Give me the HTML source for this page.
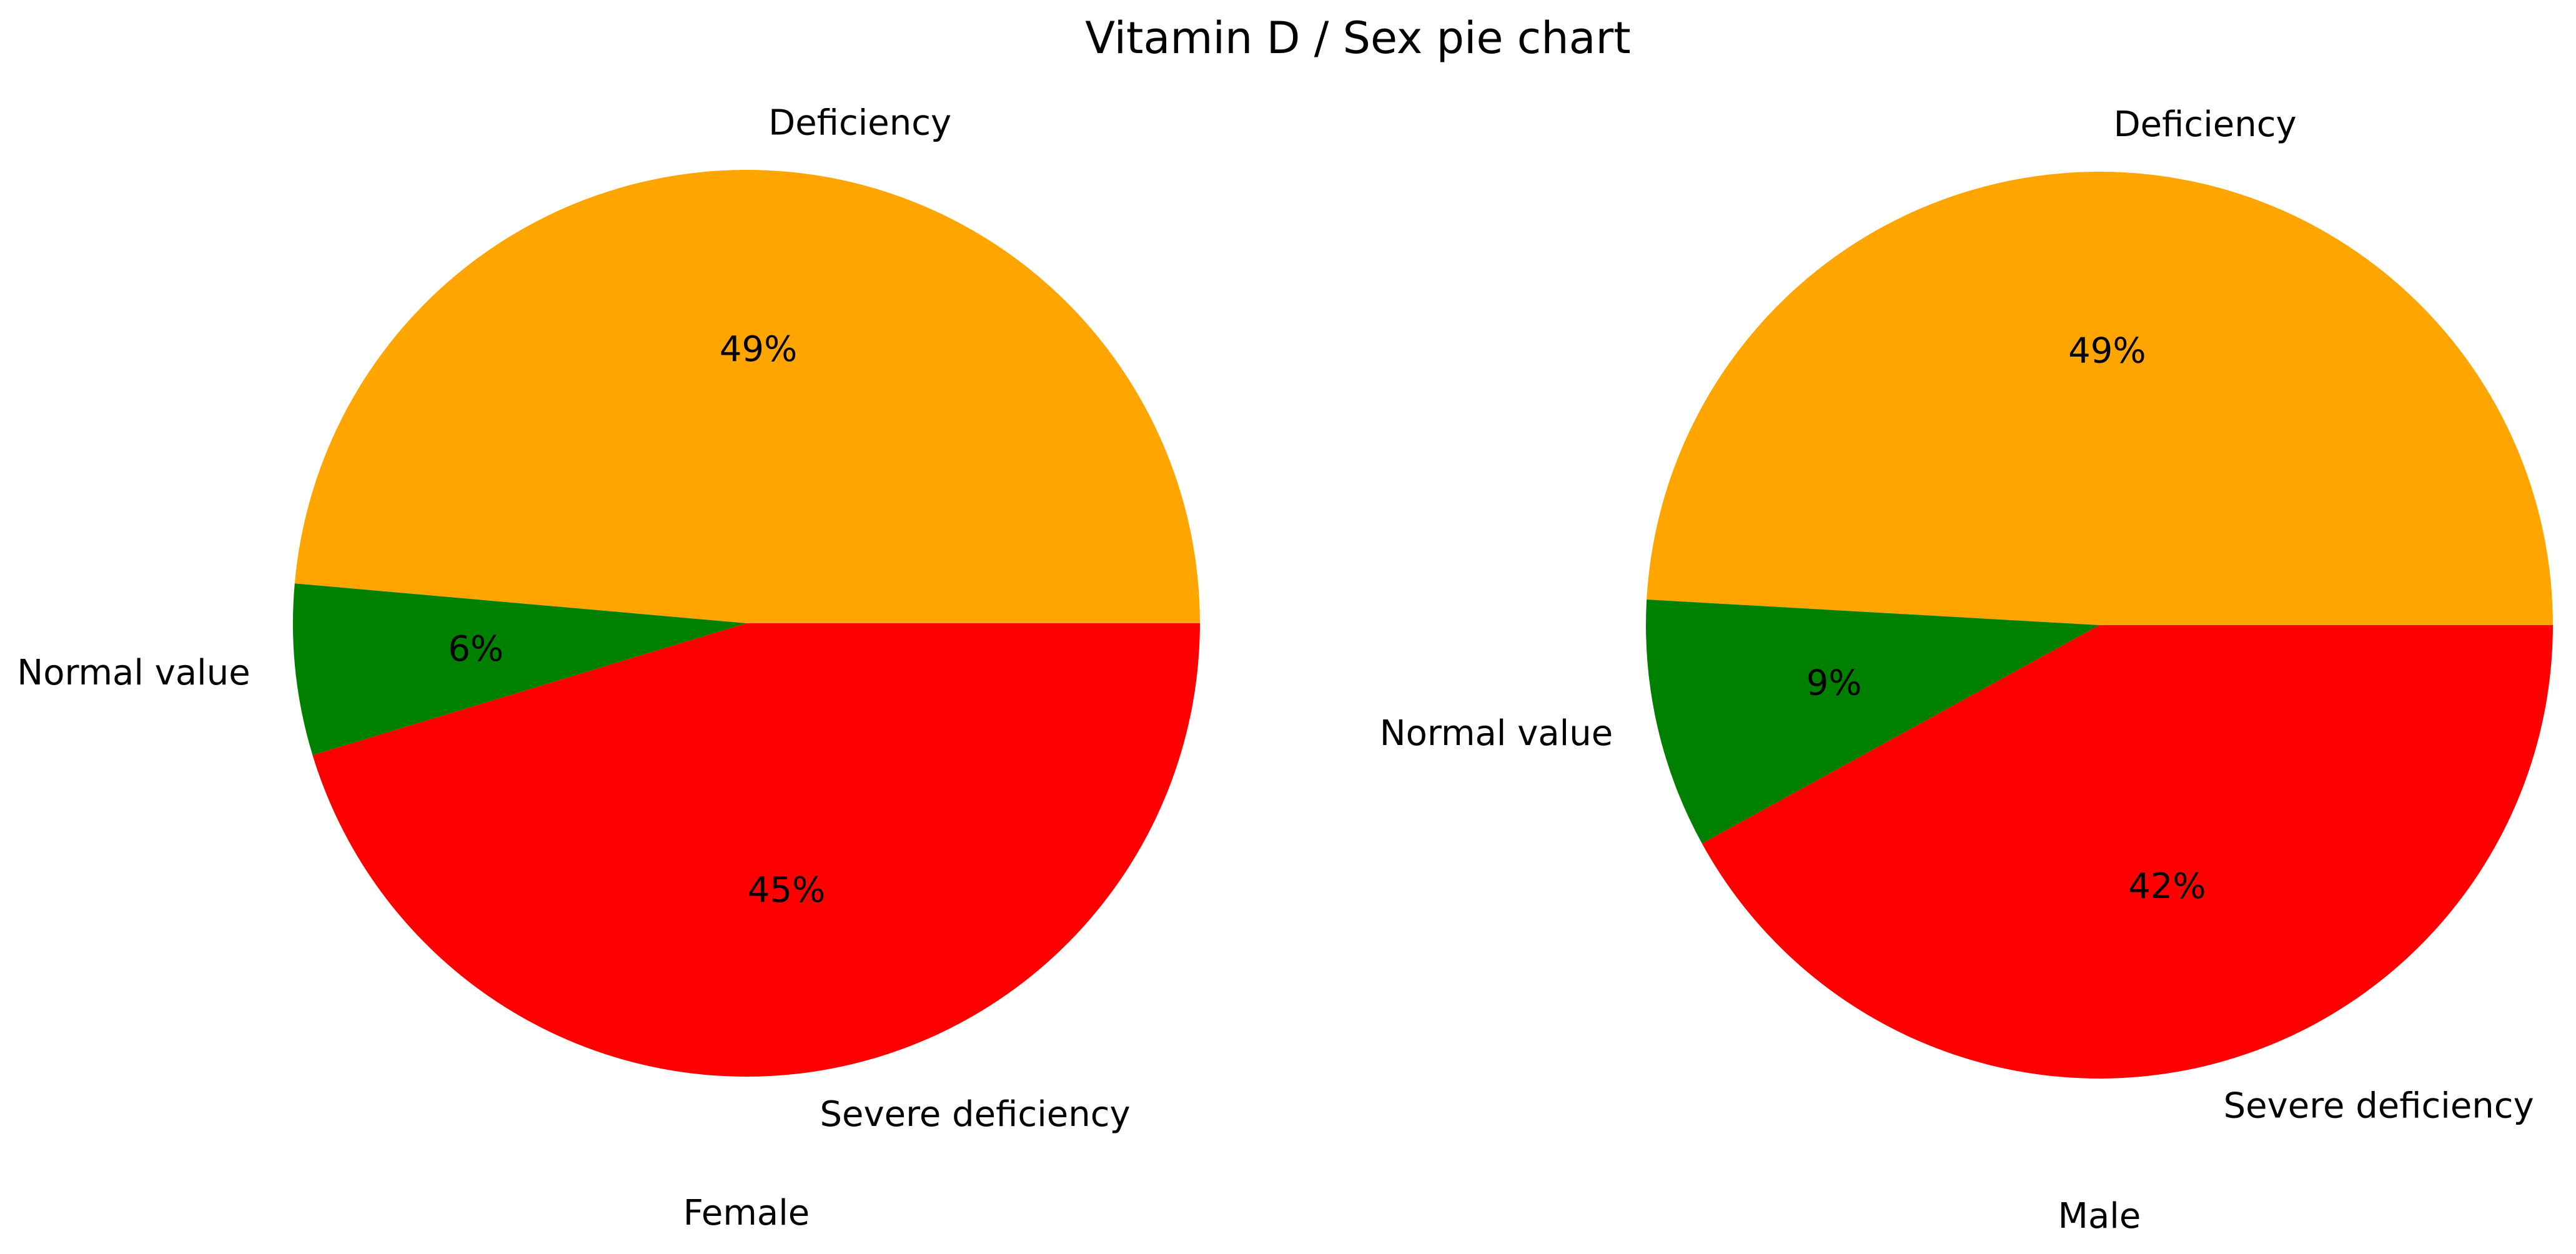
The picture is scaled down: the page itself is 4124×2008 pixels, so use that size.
<!DOCTYPE html>
<html><head><meta charset="utf-8"><style>
html,body{margin:0;padding:0;background:#fff;}
svg{display:block;font-family:"DejaVu Sans","Liberation Sans",sans-serif;}
</style></head><body>
<svg id="chart" width="4124" height="2008" viewBox="0 0 4124 2008">
<text x="2174" y="66" text-anchor="middle" dominant-baseline="middle" font-size="70" fill="#000">Vitamin D / Sex pie chart</text>
<g id="pies"></g>
</svg>
<script>
const categories = ["Deficiency", "Normal value", "Severe deficiency"];
const colors = ["#FFA500", "#008000", "#FF0000"];
const femaleValues = [48.6, 6.1, 45.3];
const maleValues = [49.1, 8.9, 42.0];
const groupNames = ["Female", "Male"];

const NS = "http://www.w3.org/2000/svg";
const g = document.getElementById("pies");
function mk(tag, attrs) { const e = document.createElementNS(NS, tag); for (const k in attrs) e.setAttribute(k, attrs[k]); return e; }

function drawPie(values, cx, cy, r, name, subY) {
  const total = values.reduce((a, b) => a + b, 0);
  let start = 0;
  values.forEach((v, i) => {
    const a0 = start / total * 2 * Math.PI, a1 = (start + v) / total * 2 * Math.PI;
    start += v;
    const x0 = cx + r * Math.cos(a0), y0 = cy - r * Math.sin(a0);
    const x1 = cx + r * Math.cos(a1), y1 = cy - r * Math.sin(a1);
    const large = (a1 - a0) > Math.PI ? 1 : 0;
    const p = mk("path", { d: `M${cx},${cy} L${x0},${y0} A${r},${r} 0 ${large} 0 ${x1},${y1} Z`, fill: colors[i] });
    
    
    g.appendChild(p);
    const am = (a0 + a1) / 2;
    const lx = cx + 1.1 * r * Math.cos(am), ly = cy - 1.1 * r * Math.sin(am);
    const t = mk("text", { x: lx, y: ly, "font-size": 56, "dominant-baseline": "middle", "text-anchor": Math.cos(am) < 0 ? "end" : "start", fill: "#000" });
    t.textContent = categories[i];
    
    
    g.appendChild(t);
    const px = cx + 0.6 * r * Math.cos(am), py = cy - 0.6 * r * Math.sin(am);
    const pt = mk("text", { x: px, y: py, "font-size": 56, "dominant-baseline": "middle", "text-anchor": "middle", fill: "#000" });
    pt.textContent = Math.round(v / total * 100) + "%";
    
    
    g.appendChild(pt);
  });
  const st = mk("text", { x: cx, y: subY, "font-size": 56, "dominant-baseline": "middle", "text-anchor": "middle", fill: "#000" });
  st.textContent = name;
  
  
  g.appendChild(st);
}
drawPie(femaleValues, 1195, 998, 726, groupNames[0], 1946);
drawPie(maleValues, 3361, 1001, 726, groupNames[1], 1951);
</script>
</body></html>
